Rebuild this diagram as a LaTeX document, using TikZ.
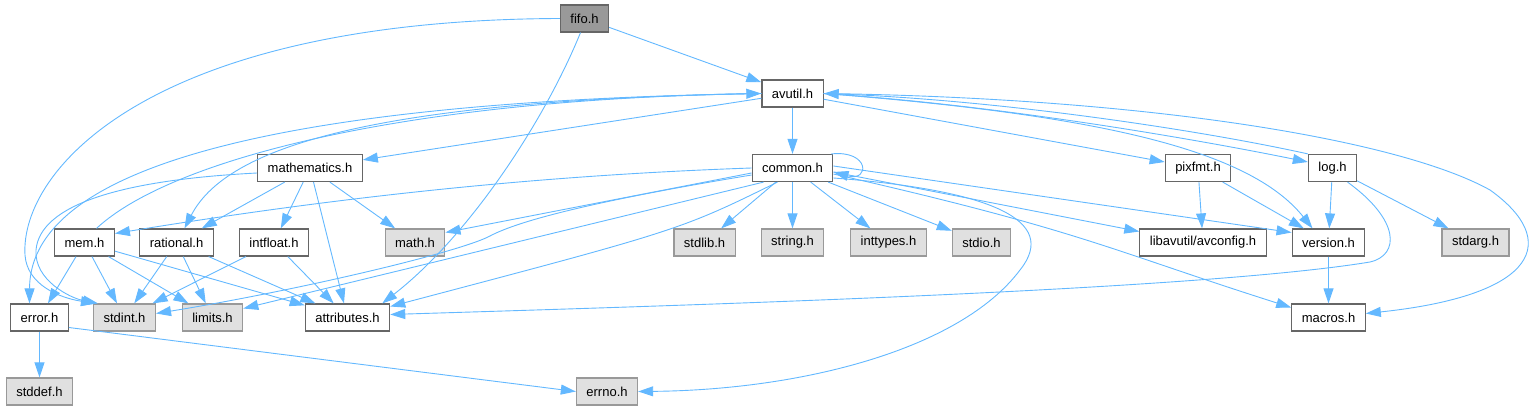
\documentclass[tikz,border=0pt]{standalone}
\usepackage{fontspec}
\setmainfont{Liberation Sans}
\usetikzlibrary{arrows.meta}
\definecolor{edgeBlue}{HTML}{63B8FF}
\definecolor{boxGray}{HTML}{666666}
\definecolor{sysGray}{HTML}{999999}
\definecolor{sysFill}{HTML}{E0E0E0}

\begin{document}
\begin{tikzpicture}[
    x=1pt, y=-1pt,
    filebox/.style={draw=boxGray, fill=white, line width=1.2pt, minimum height=27pt, inner xsep=10pt, inner ysep=0pt, font=\fontsize{13}{15}\selectfont},
    sysbox/.style={filebox, draw=sysGray, fill=sysFill},
    rootbox/.style={filebox, fill=sysGray},
    arrow/.style={line width=0.9pt, -{Triangle[length=15pt, width=10pt]}, draw=edgeBlue}
]
    \useasboundingbox (0,0) rectangle (1534,411);

    \node[rootbox] (fifo) at (584.5, 18.5) {fifo.h};
    \node[filebox] (avutil) at (792.5, 93.5) {avutil.h};
    \node[filebox] (mathematics) at (310, 168) {mathematics.h};
    \node[filebox] (common) at (792.5, 168) {common.h};
    \node[filebox] (pixfmt) at (1198, 168) {pixfmt.h};
    \node[filebox] (log) at (1332.5, 168) {log.h};
    \node[filebox] (mem) at (84.5, 242.5) {mem.h};
    \node[filebox] (rational) at (176.5, 242.5) {rational.h};
    \node[filebox] (intfloat) at (274, 242.5) {intfloat.h};
    \node[sysbox] (math) at (415, 242.5) {math.h};
    \node[sysbox] (stdlib) at (704.5, 242.5) {stdlib.h};
    \node[sysbox] (string) at (792.5, 242.5) {string.h};
    \node[sysbox] (inttypes) at (888.5, 242.5) {inttypes.h};
    \node[sysbox] (stdio) at (981.5, 242.5) {stdio.h};
    \node[filebox] (avconfig) at (1203, 242.5) {libavutil/avconfig.h};
    \node[filebox] (version) at (1328.5, 242.5) {version.h};
    \node[sysbox] (stdarg) at (1475.5, 242.5) {stdarg.h};
    \node[filebox] (error) at (39.5, 317.5) {error.h};
    \node[sysbox] (stdint) at (124.5, 317.5) {stdint.h};
    \node[sysbox] (limits) at (212.5, 317.5) {limits.h};
    \node[filebox] (attributes) at (347.5, 317.5) {attributes.h};
    \node[filebox] (macros) at (1328.5, 317.5) {macros.h};
    \node[sysbox] (stddef) at (39.5, 391.5) {stddef.h};
    \node[sysbox] (errno) at (607, 391.5) {errno.h};

    \draw[arrow] (fifo) -- (avutil);
    \draw[arrow] (fifo.west) .. controls (150,20) and (20,170) .. (25,255) .. controls (27,285) and (60,298) .. ([xshift=3pt]stdint.north west);
    \draw[arrow] ([xshift=-4pt]fifo.south) .. controls (545,120) and (470,235) .. ([xshift=-8pt]attributes.north east);

    \draw[arrow] (avutil) -- (common);
    \draw[arrow] (avutil) -- (mathematics);
    \draw[arrow] (avutil.west) .. controls (350,100) and (30,150) .. ([xshift=-10pt]error.north);
    \draw[arrow] (avutil.west) .. controls (400,100) and (230,140) .. ([xshift=8pt]rational.north);
    \draw[arrow] ([xshift=12pt]mem.north) .. controls (170,160) and (400,100) .. (avutil.west);
    \draw[arrow] (avutil) -- ([yshift=6pt]pixfmt.west);
    \draw[arrow] (avutil.east) .. controls (1000,105) and (1200,140) .. ([yshift=6pt]log.west);
    \draw[arrow] (log.north west) .. controls (1200,130) and (1000,100) .. (avutil.east);
    \draw[arrow] (avutil.east) .. controls (1100,115) and (1250,150) .. ([xshift=-16pt]version.north);
    \draw[arrow] (avutil.east) .. controls (1150,98) and (1400,140) .. (1490,190) .. controls (1560,240) and (1540,295) .. ([yshift=4pt]macros.east);

    \draw[arrow] ([xshift=-2pt]common.north east) .. controls (870,150) and (870,182) .. ([yshift=-4pt]common.east);
    \draw[arrow] (common.west) .. controls (550,175) and (350,195) .. ([yshift=9pt]mem.east);
    \draw[arrow] ([yshift=-5pt]common.west) -- ([yshift=10pt]math.east);
    \draw[arrow] ([yshift=-7pt]common.west) .. controls (600,200) and (520,220) .. (490,236) .. controls (460,252) and (300,290) .. ([yshift=4pt]stdint.east);
    \draw[arrow] ([xshift=12pt]common.south west) -- ([yshift=9pt]limits.east);
    \draw[arrow] ([xshift=-15pt]common.south) .. controls (680,230) .. ([yshift=11pt]attributes.east);
    \draw[arrow] (common) -- (stdlib);
    \draw[arrow] (common) -- (string);
    \draw[arrow] (common) -- (inttypes);
    \draw[arrow] (common) -- (stdio);
    \draw[arrow] ([yshift=2pt]common.east) -- ([yshift=10pt]version.west);
    \draw[arrow] ([yshift=-4pt]common.east) -- ([yshift=11pt]avconfig.west);
    \draw[arrow] ([yshift=-6pt]common.east) .. controls (1080,230) and (1110,250) .. ([yshift=10pt]macros.west);
    \draw[arrow] ([yshift=-10pt]common.east) .. controls (990,190) and (1060,220) .. (1020,270) .. controls (960,350) and (800,390) .. (errno.east);

    \draw[arrow] (pixfmt) -- (avconfig);
    \draw[arrow] (pixfmt) -- (version);
    \draw[arrow] (log) -- (version);
    \draw[arrow] (log) -- (stdarg);
    \draw[arrow] ([xshift=15pt]log.south) .. controls (1400,220) and (1400,255) .. (1370,262) .. controls (1200,290) and (700,305) .. ([yshift=3pt]attributes.east);
    \draw[arrow] (version) -- (macros);

    \draw[arrow] (mathematics) -- (rational);
    \draw[arrow] (mathematics) -- (intfloat);
    \draw[arrow] (mathematics) -- (math);
    \draw[arrow] (mathematics) -- (attributes);
    \draw[arrow] ([yshift=-5pt]mathematics.west) .. controls (120,180) and (40,205) .. (36,250) .. controls (34,280) and (70,298) .. ([xshift=5pt]stdint.north west);

    \draw[arrow] (mem) -- (error);
    \draw[arrow] (mem) -- (stdint);
    \draw[arrow] (mem) -- (limits);
    \draw[arrow] (mem) -- (attributes);
    \draw[arrow] (rational) -- (stdint);
    \draw[arrow] (rational) -- (limits);
    \draw[arrow] (rational) -- (attributes);
    \draw[arrow] (intfloat) -- (stdint);
    \draw[arrow] (intfloat) -- (attributes);
    \draw[arrow] (error) -- (stddef);
    \draw[arrow] ([yshift=-10pt]error.east) -- (errno.west);
\end{tikzpicture}
\end{document}
